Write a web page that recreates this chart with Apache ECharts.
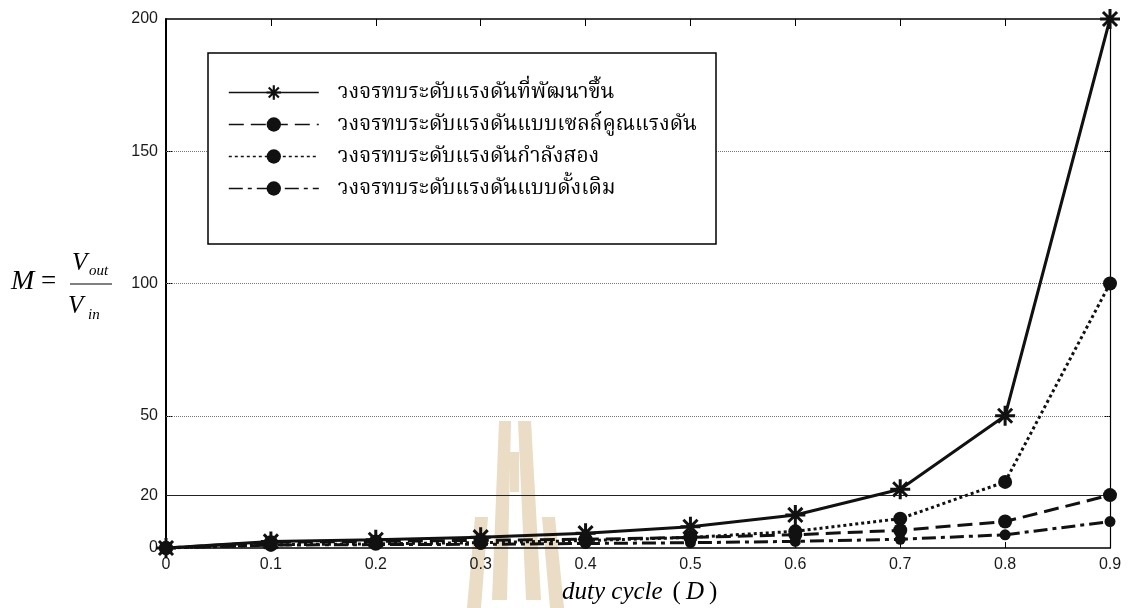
<!DOCTYPE html>
<html>
<head>
<meta charset="utf-8">
<script src="https://cdn.jsdelivr.net/npm/echarts@6/dist/echarts.min.js"></script>
<style>
  html, body { margin: 0; padding: 0; background: #fff; }
  #chart { width: 1131px; height: 608px; }
</style>
</head>
<body>
<div id="chart"></div>
<script>
// Duty cycle values on the x axis
const dutyCycle = [0, 0.1, 0.2, 0.3, 0.4, 0.5, 0.6, 0.7, 0.8, 0.9];

// Voltage gain M = Vout/Vin for each converter
const gainProposed     = [0, 2.5, 3.1, 4.1, 5.6, 8.0, 12.5, 22.2, 50, 200];
const gainCellMult     = [0, 2.2, 2.5, 2.9, 3.3, 4.0, 5.0, 6.7, 10, 20];
const gainQuadratic    = [0, 1.2, 1.6, 2.0, 2.8, 4.0, 6.3, 11.1, 25, 100];
const gainConventional = [0, 1.1, 1.3, 1.4, 1.7, 2.0, 2.5, 3.3, 5, 10];

const seriesNames = [
  'วงจรทบระดับแรงดันที่พัฒนาขึ้น',
  'วงจรทบระดับแรงดันแบบเซลล์คูณแรงดัน',
  'วงจรทบระดับแรงดันกำลังสอง',
  'วงจรทบระดับแรงดันแบบดั้งเดิม'
];

// Y tick labels and grid lines
const yTickLabels = [0, 20, 50, 100, 150, 200];
const yGridValues = [20, 50, 100, 150];

const pairs = arr => dutyCycle.map((d, i) => [d, arr[i]]);

// Eight-armed asterisk marker
const asterisk = 'path://M-1.5,-10L1.5,-10L1.5,10L-1.5,10Z M-10,-1.5L10,-1.5L10,1.5L-10,1.5Z ' +
  'M-6.0,-8.1L8.1,6.0L6.0,8.1L-8.1,-6.0Z M6.0,-8.1L8.1,-6.0L-6.0,8.1L-8.1,6.0Z';

const serifFont = "'Liberation Serif', 'Noto Serif Thai', 'Noto Sans Thai', 'Times New Roman', serif";
const ink = '#111';
const stamp = '#eadcc5';

const chart = echarts.init(document.getElementById('chart'), null, { renderer: 'canvas' });

const gridMarks = yGridValues.map(v => ({
  yAxis: v,
  lineStyle: v === 20
    ? { type: 'solid', color: '#222', width: 1 }
    : { type: [1, 1], color: '#777', width: 1 }
}));

chart.setOption({
  animation: false,
  backgroundColor: '#fff',
  grid: { left: 166, right: 21, top: 19, bottom: 60 },
  xAxis: [{
    type: 'value', min: 0, max: 0.9, interval: 0.1,
    axisLine: { onZero: false, lineStyle: { color: '#000', width: 1.5 } },
    axisTick: { inside: true, length: 6, lineStyle: { color: '#000' } },
    axisLabel: {
      color: '#1a1a1a', fontSize: 16, fontFamily: "'Liberation Sans', Arial, sans-serif",
      margin: 9, formatter: v => String(Math.round(v * 10) / 10)
    },
    splitLine: { show: false }
  }, {
    type: 'value', position: 'top', min: 0, max: 0.9, interval: 0.1,
    axisLine: { show: true, onZero: false, lineStyle: { color: '#000', width: 1.5 } },
    axisTick: { inside: true, length: 7, lineStyle: { color: '#000' } },
    axisLabel: { show: false },
    splitLine: { show: false }
  }],
  yAxis: [{
    type: 'value', min: 0, max: 200, interval: 10,
    axisLine: { show: true, onZero: false, lineStyle: { color: '#000', width: 2 } },
    axisTick: { show: true, inside: true, length: 6, customValues: yGridValues, lineStyle: { color: '#000' } },
    axisLabel: {
      color: '#1a1a1a', fontSize: 16, fontFamily: "'Liberation Sans', Arial, sans-serif",
      margin: 8, customValues: yTickLabels
    },
    splitLine: { show: false }
  }, {
    type: 'value', position: 'right', min: 0, max: 200, interval: 10,
    axisLine: { show: true, onZero: false, lineStyle: { color: '#000', width: 1.2 } },
    axisTick: { show: true, inside: true, length: 6, customValues: yGridValues, lineStyle: { color: '#000' } },
    axisLabel: { show: false },
    splitLine: { show: false }
  }],
  legend: {
    orient: 'vertical',
    left: 228, top: 80,
    padding: 0,
    itemWidth: 90, itemHeight: 18, itemGap: 7,
    lineStyle: { width: 1.6 },
    textStyle: {
      fontFamily: serifFont, fontSize: 21, color: '#000',
      lineHeight: 25, padding: [0, 0, 0, 14]
    },
    data: seriesNames,
    z: 6
  },
  graphic: [
    // Watermark emblem
    { type: 'polygon', z: -1, silent: true, shape: { points: [[499,421],[511,421],[507,600],[492,600]] }, style: { fill: stamp } },
    { type: 'polygon', z: -1, silent: true, shape: { points: [[518,421],[531,421],[541,600],[526,600]] }, style: { fill: stamp } },
    { type: 'rect', z: -1, silent: true, shape: { x: 510, y: 452, width: 9, height: 40 }, style: { fill: stamp } },
    { type: 'polygon', z: -1, silent: true, shape: { points: [[475,517],[488,517],[481,608],[467,608]] }, style: { fill: stamp } },
    { type: 'polygon', z: -1, silent: true, shape: { points: [[542,517],[555,517],[564,608],[550,608]] }, style: { fill: stamp } },
    // Legend frame
    { type: 'rect', z: 5, silent: true, shape: { x: 208, y: 53, width: 508, height: 191 },
      style: { fill: '#fff', stroke: '#000', lineWidth: 1.5 } },
    // Y axis title: M = Vout / Vin
    { type: 'text', z: 5, left: 11, top: 268, style: { text: 'M', font: "italic 28px " + serifFont, fill: '#000' } },
    { type: 'text', z: 5, left: 41, top: 268, style: { text: '=', font: "27px " + serifFont, fill: '#000' } },
    { type: 'line', z: 5, shape: { x1: 70, y1: 284, x2: 112, y2: 284 }, style: { stroke: '#000', lineWidth: 1 } },
    { type: 'text', z: 5, left: 72, top: 251, style: { text: 'V', font: "italic 25px " + serifFont, fill: '#000' } },
    { type: 'text', z: 5, left: 89, top: 264, style: { text: 'out', font: "italic 15px " + serifFont, fill: '#000' } },
    { type: 'text', z: 5, left: 68, top: 294, style: { text: 'V', font: "italic 25px " + serifFont, fill: '#000' } },
    { type: 'text', z: 5, left: 88, top: 308, style: { text: 'in', font: "italic 15px " + serifFont, fill: '#000' } },
    // X axis title
    { type: 'text', z: 5, left: 562, top: 580, style: {
      text: '{i|duty cycle}{o|(}{d|D}{c|)}',
      rich: {
        i: { font: "italic 25px " + serifFont, fill: '#000' },
        d: { font: "italic 25px " + serifFont, fill: '#000' },
        o: { font: "25px " + serifFont, fill: '#000', padding: [0, 5, 0, 10] },
        c: { font: "25px " + serifFont, fill: '#000', padding: [0, 0, 0, 5] }
      }
    } }
  ],
  series: [{
    name: seriesNames[0], type: 'line', data: pairs(gainProposed),
    symbol: asterisk, symbolSize: 20, z: 4,
    lineStyle: { color: ink, width: 3, type: 'solid' },
    itemStyle: { color: ink },
    markLine: { silent: true, symbol: ['none', 'none'], label: { show: false }, data: gridMarks, z: 1 }
  }, {
    name: seriesNames[1], type: 'line', data: pairs(gainCellMult),
    symbol: 'circle', symbolSize: 14, z: 3,
    lineStyle: { color: ink, width: 3, type: [15, 7] },
    itemStyle: { color: ink }
  }, {
    name: seriesNames[2], type: 'line', data: pairs(gainQuadratic),
    symbol: 'circle', symbolSize: 14, z: 3,
    lineStyle: { color: ink, width: 3, type: [3, 3] },
    itemStyle: { color: ink }
  }, {
    name: seriesNames[3], type: 'line', data: pairs(gainConventional),
    symbol: 'circle', symbolSize: 11, z: 3,
    lineStyle: { color: ink, width: 3, type: [14, 5, 4, 5] },
    itemStyle: { color: ink }
  }]
});
</script>
</body>
</html>
